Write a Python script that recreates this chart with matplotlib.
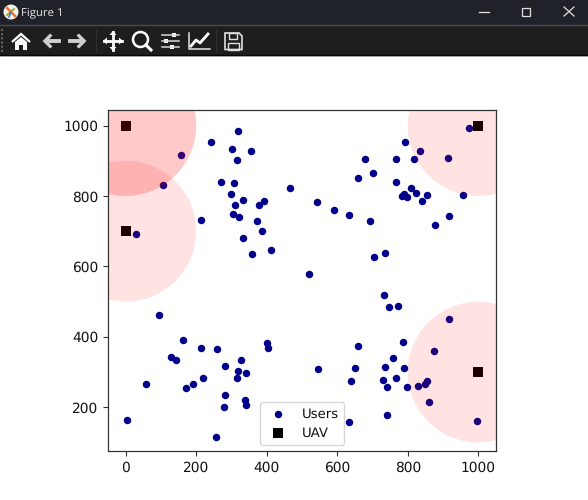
import matplotlib
matplotlib.use("Agg")
import matplotlib.pyplot as plt
from matplotlib.patches import Circle, Polygon, Rectangle

user_x = [157, 107, 29, 318, 243, 302, 354, 315, 269, 306, 466, 300, 333, 391, 378, 309, 303, 321, 215, 372,
          386, 334, 357, 412,
          974, 793, 834, 914, 679, 766, 818, 702, 658, 767, 809, 822, 853, 957, 784, 789, 799, 839, 542, 591,
          634, 692, 918, 876, 735, 704, 520,
          94, 164, 215, 259, 400, 405, 128, 143, 327, 283, 318, 341, 315, 219, 191, 170, 58, 283, 338, 341,
          279, 5, 255,
          733, 746, 771, 916, 785, 659, 875, 759, 735, 651, 789, 546, 766, 729, 639, 742, 799, 828, 848, 853,
          860, 742, 632, 996]
user_y = [916, 832, 691, 985, 952, 932, 929, 901, 840, 837, 823, 806, 789, 787, 773, 773, 749, 740, 731, 729,
          701, 682, 636, 646,
          993, 952, 928, 909, 906, 905, 906, 865, 851, 840, 822, 808, 803, 803, 800, 805, 798, 786, 783, 759,
          746, 728, 744, 718, 638, 628, 579,
          463, 391, 369, 366, 383, 368, 344, 335, 334, 316, 304, 297, 283, 283, 266, 256, 267, 235, 220, 207,
          202, 165, 116,
          519, 486, 489, 452, 385, 374, 359, 340, 315, 312, 311, 309, 282, 277, 275, 259, 259, 261, 265, 275,
          216, 178, 158, 161]
uav_x = [0, 0, 1000, 1000]
uav_y = [1000, 700, 1000, 300]
uav_radius = [200, 200, 200, 200]
uav_alpha = [0.21, 0.115, 0.115, 0.115]
x_ticks = [0, 200, 400, 600, 800, 1000]
y_ticks = [200, 400, 600, 800, 1000]

WIDTH = 588
HEIGHT = 500

plt.rcParams["text.hinting"] = "none"
plt.rcParams["text.color"] = "#111111"
plt.rcParams["xtick.labelcolor"] = "#111111"
plt.rcParams["ytick.labelcolor"] = "#111111"

fig = plt.figure(figsize=(WIDTH / 100, HEIGHT / 100), dpi=100, facecolor="white")


def draw_plot():
    ax = fig.add_axes([108 / WIDTH, (HEIGHT - 451.3) / HEIGHT, 388 / WIDTH, 341.6 / HEIGHT])
    ax.scatter(user_x, user_y, s=29, c="darkblue", linewidths=0, label="Users")
    ax.scatter(uav_x, uav_y, s=48, c="black", marker="s", linewidths=0, label="UAV")
    for i in range(len(uav_x)):
        ax.add_patch(Circle((uav_x[i], uav_y[i]), uav_radius[i], color="red", alpha=uav_alpha[i], lw=0))
    ax.set_xlim(-50, 1050)
    ax.set_ylim(75, 1045)
    ax.set_xticks(x_ticks)
    ax.set_yticks(y_ticks)
    ax.tick_params(labelsize=9.9, color="#333333")
    for side in ax.spines:
        ax.spines[side].set_color("#333333")
        ax.spines[side].set_linewidth(0.9)
    ax.legend(loc="lower center", fontsize=9.5)


def draw_window(c):
    # title bar and toolbar, in screen pixels
    c.add_patch(Rectangle((0, 0), WIDTH, 25, color="#1f2329", lw=0))
    c.add_patch(Rectangle((0, 25), WIDTH, 30, color="#1e1e1e", lw=0))
    c.plot([0, WIDTH], [24.5, 24.5], color="#4a4a4a", lw=1)
    c.plot([0, WIDTH], [55.2, 55.2], color="#050505", lw=1)
    c.plot([0, WIDTH], [56, 56], color="#a0a0a0", lw=0.6)
    c.plot([96, 96], [29, 52], color="#2c2c2c", lw=0.8)
    c.plot([216, 216], [29, 52], color="#2c2c2c", lw=0.8)
    c.plot([2, 2], [29, 52], color="#666666", lw=1.5, ls=(0, (1, 1)))

    # logo and title
    c.add_patch(Circle((11, 12), 7.5, color="#f4f1ea", lw=0))
    c.plot([7, 15], [8, 16], color="#e8743b", lw=1.8)
    c.plot([7, 14], [15, 9], color="#9aa83a", lw=1.4)
    c.plot([11, 9], [12, 17], color="#3b7fc4", lw=1.2)
    c.text(21, 12.5, "Figure 1", color="#e8e8e8", fontsize=8.2, family="Open Sans", va="center", ha="left")

    # window buttons
    c.plot([479, 489], [11.5, 11.5], color="#e0e0e0", lw=0.9)
    c.add_patch(Rectangle((521.5, 7.5), 8, 8, fill=False, ec="#e0e0e0", lw=0.9))
    c.plot([564, 574], [7, 16], color="#e0e0e0", lw=0.9)
    c.plot([564, 574], [16, 7], color="#e0e0e0", lw=0.9)

    # home
    c.add_patch(Polygon([[12, 42], [21, 34], [30, 42]], closed=False, fill=False, ec="white", lw=1.6))
    c.add_patch(Polygon([[15, 42], [21, 37], [27, 42], [27, 50], [23, 50], [23, 45], [19, 45], [19, 50], [15, 50]],
                        color="white", lw=0))
    # back and forward
    c.plot([48, 59], [41, 41], color="#cfcfcf", lw=2.8)
    c.add_patch(Polygon([[42.5, 41], [50, 33.5], [52.5, 35.5], [47.5, 41], [52.5, 46.5], [50, 48.5]],
                        color="#cfcfcf", lw=0))
    c.plot([70, 81], [41, 41], color="#cfcfcf", lw=2.8)
    c.add_patch(Polygon([[86.5, 41], [79, 33.5], [76.5, 35.5], [81.5, 41], [76.5, 46.5], [79, 48.5]],
                        color="#cfcfcf", lw=0))
    # move
    c.plot([104, 122], [41, 41], color="white", lw=2)
    c.plot([113, 113], [32, 50], color="white", lw=2)
    for pts in ([[103, 41], [107, 37.5], [107, 44.5]], [[123, 41], [119, 37.5], [119, 44.5]],
                [[113, 31], [109.5, 35], [116.5, 35]], [[113, 51], [109.5, 47], [116.5, 47]]):
        c.add_patch(Polygon(pts, color="white", lw=0))
    # zoom
    c.add_patch(Circle((140.5, 39.5), 7.5, fill=False, ec="white", lw=1.8))
    c.plot([146, 151], [45, 50], color="white", lw=2.2)
    # sliders
    for y, knob in ((35, 174), (41, 166), (47, 172)):
        c.plot([162, 179], [y, y], color="#d8d8d8", lw=1.1)
        c.add_patch(Rectangle((knob - 2, y - 2.2), 4, 4.4, color="white", lw=0))
    # lines
    c.plot([189, 189, 210], [33, 49, 49], color="#e8e8e8", lw=1.1)
    c.plot([191, 196, 200, 208], [46, 40, 43, 34], color="white", lw=2)
    # save
    c.add_patch(Polygon([[225, 33], [239, 33], [242, 36], [242, 49.5], [225, 49.5]], fill=False, ec="#e0e0e0", lw=1.2))
    c.add_patch(Rectangle((229, 33), 8, 6, fill=False, ec="#e0e0e0", lw=1))
    c.add_patch(Rectangle((228, 43), 11, 6.5, fill=False, ec="#e0e0e0", lw=1))


draw_plot()

chrome = fig.add_axes([0, 0, 1, 1], facecolor="none")
chrome.set_xlim(0, WIDTH)
chrome.set_ylim(HEIGHT, 0)
chrome.axis("off")
draw_window(chrome)

fig.savefig("out.png", dpi=100)
